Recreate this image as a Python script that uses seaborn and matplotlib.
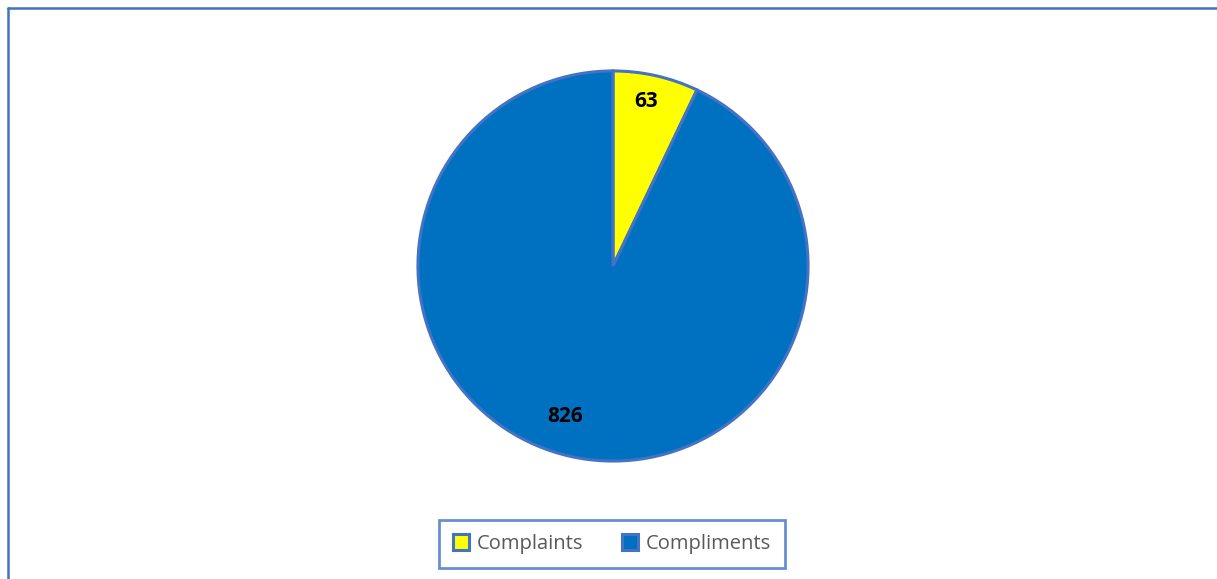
import matplotlib
matplotlib.use("Agg")
import matplotlib.pyplot as plt
import seaborn as sns
import numpy as np
from matplotlib.patches import Patch
from matplotlib.lines import Line2D

categories = ["Complaints", "Compliments"]
values = [63, 826]
colors = ["#FFFF00", "#0070C0"]

sns.set_theme(style="white")
plt.rcParams['font.family'] = ['Open Sans', 'DejaVu Sans']

W, H = 1217, 579
fig = plt.figure(figsize=(W / 100, H / 100), dpi=100)
fig.patch.set_facecolor("white")

cx, cy, r = 613, 266, 197
ax = fig.add_axes([(cx - r) / W, (H - cy - r) / H, 2 * r / W, 2 * r / H])

wedges, texts, autotexts = ax.pie(
    values, colors=colors, startangle=90, counterclock=False,
    autopct=lambda p: f"{round(p * sum(values) / 100):d}", pctdistance=0.86,
    wedgeprops=dict(edgecolor="#4472C4", linewidth=2.2),
    textprops=dict(fontsize=15, fontweight="bold", color="black"),
)
# nudge labels slightly along the arc, as in the reference
for i, (dang, rad) in enumerate([(1.5, 0.86), (-5, 0.81)]):
    w = wedges[i]
    ang = np.deg2rad((w.theta1 + w.theta2) / 2 + dang)
    autotexts[i].set_position((rad * np.cos(ang), rad * np.sin(ang)))

ax.set_xlim(-1.01, 1.01)
ax.set_ylim(-1.01, 1.01)
ax.set_aspect("equal")
ax.axis("off")

handles = [Patch(facecolor=c, edgecolor="#4472C4", linewidth=2.2) for c in colors]
leg = fig.legend(handles, categories, loc="center",
                 bbox_to_anchor=(612 / W, 1 - 544 / H), ncol=2,
                 frameon=True, fancybox=False, fontsize=14.5,
                 handlelength=0.8, handleheight=0.8, handletextpad=0.4,
                 columnspacing=1.9, borderpad=0.7, borderaxespad=0,
                 labelcolor="#595959")
leg.get_frame().set_edgecolor("#4472C4")
leg.get_frame().set_linewidth(2)

bx = 8 / W
by = 1 - 8 / H
fig.add_artist(Line2D([bx, bx], [0, by], transform=fig.transFigure, color="#4472C4", linewidth=1.8))
fig.add_artist(Line2D([bx, 1], [by, by], transform=fig.transFigure, color="#4472C4", linewidth=1.8))

fig.savefig("out.png", dpi=100, facecolor="white")
